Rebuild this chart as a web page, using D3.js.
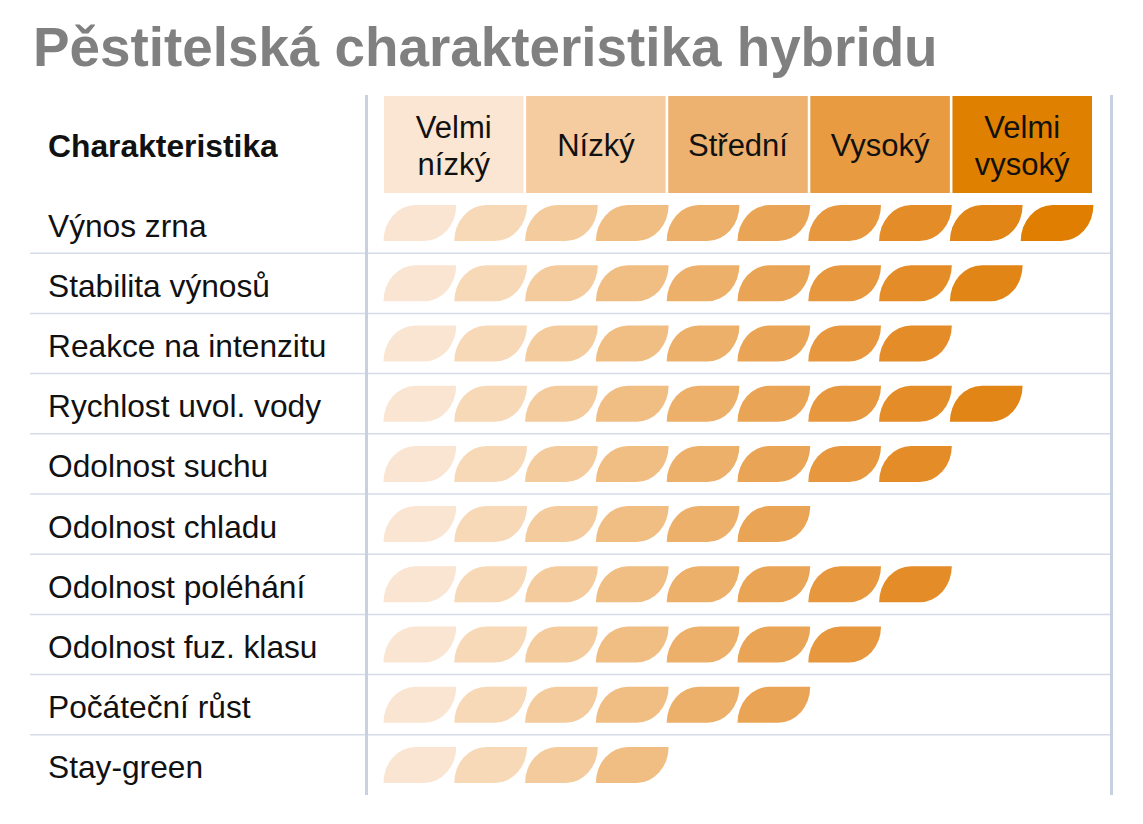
<!DOCTYPE html>
<html>
<head>
<meta charset="utf-8">
<script src="https://cdn.jsdelivr.net/npm/d3@7"></script>
<style>
  body { margin: 0; background: #fff; }
  text { font-family: "Liberation Sans", Arial, Helvetica, sans-serif; }
</style>
</head>
<body>
<script>
var title = "Pěstitelská charakteristika hybridu";
var headerLabel = "Charakteristika";

// rating levels (header), each spans two leaves
var levels = [["Velmi", "nízký"], ["Nízký"], ["Střední"], ["Vysoký"], ["Velmi", "vysoký"]];
var levelColors = ["#fae6d3", "#f5cc9f", "#eeb270", "#e89b40", "#e08000"];

// traits and their score (number of leaves, 1-10)
var traits = ["Výnos zrna", "Stabilita výnosů", "Reakce na intenzitu", "Rychlost uvol. vody",
  "Odolnost suchu", "Odolnost chladu", "Odolnost poléhání", "Odolnost fuz. klasu",
  "Počáteční růst", "Stay-green"];
var scores = [10, 9, 8, 9, 8, 6, 8, 7, 6, 4];

var leafColors = ["#f9e5d1", "#f7d8b7", "#f4cb9d", "#f0bd83", "#edb06a",
  "#eaa455", "#e7983e", "#e38c28", "#e18516", "#df7e00"];

var width = 1143,
    height = 824;

var svg = d3.select("body").append("svg")
    .attr("width", width)
    .attr("height", height);

var x = d3.scaleLinear().domain([0, 10]).range([383.5, 1091.5]);
var xLevel = d3.scaleBand().domain(d3.range(levels.length)).range([384, 1092]).paddingInner(0.018);
var y = d3.scaleBand().domain(traits).range([193, 795]);

var leafW = (x(1) - x(0)) * 1.027,
    leafH = 36,
    rx = 32;

function leafPath(lx, ly) {
  return "M" + lx + "," + (ly + leafH) +
    "A" + rx + "," + leafH + " 0 0 1 " + (lx + rx) + "," + ly +
    "L" + (lx + leafW) + "," + ly +
    "A" + rx + "," + leafH + " 0 0 1 " + (lx + leafW - rx) + "," + (ly + leafH) + "Z";
}

// title
svg.append("text")
    .attr("x", 33)
    .attr("y", 66)
    .attr("font-size", 54.8)
    .attr("font-weight", "bold")
    .attr("fill", "#808080")
    .text(title);

// header
svg.append("text")
    .attr("x", 48)
    .attr("y", 157)
    .attr("font-size", 31.8)
    .attr("font-weight", "bold")
    .attr("fill", "#111")
    .text(headerLabel);

var head = svg.selectAll("g.level")
    .data(levels)
    .enter().append("g")
    .attr("class", "level");

head.append("rect")
    .attr("x", (d, i) => xLevel(i))
    .attr("y", 96)
    .attr("width", xLevel.bandwidth())
    .attr("height", 97)
    .attr("fill", (d, i) => levelColors[i]);

head.append("text")
    .attr("text-anchor", "middle")
    .attr("font-size", 31)
    .attr("fill", "#111")
    .selectAll("tspan")
    .data((d, i) => d.map(function(t, j) { return {t: t, i: i, j: j, n: d.length}; }))
    .enter().append("tspan")
    .attr("x", d => xLevel(d.i) + xLevel.bandwidth() / 2)
    .attr("y", d => 156 + (d.j - (d.n - 1) / 2) * 37)
    .text(d => d.t);

// row separators
svg.selectAll("line.row")
    .data(traits.slice(1))
    .enter().append("line")
    .attr("class", "row")
    .attr("x1", 30)
    .attr("x2", 1111)
    .attr("y1", d => y(d))
    .attr("y2", d => y(d))
    .attr("stroke", "#d5dce6")
    .attr("stroke-width", 1.5);

// vertical rules
svg.selectAll("line.vrule")
    .data([366.5, 1111.5])
    .enter().append("line")
    .attr("class", "vrule")
    .attr("x1", d => d)
    .attr("x2", d => d)
    .attr("y1", 95)
    .attr("y2", 795)
    .attr("stroke", "#c8d1df")
    .attr("stroke-width", 3);

// rows
var rows = svg.selectAll("g.trait")
    .data(traits)
    .enter().append("g")
    .attr("class", "trait");

rows.append("text")
    .attr("x", 48)
    .attr("y", d => y(d) + y.bandwidth() / 2 + 13.5)
    .attr("font-size", 31.7)
    .attr("fill", "#111")
    .text(d => d);

rows.selectAll("path")
    .data((d, i) => d3.range(scores[i]).map(k => ({k: k, trait: d})))
    .enter().append("path")
    .attr("d", d => leafPath(x(d.k), y(d.trait) + y.bandwidth() / 2 - leafH / 2))
    .attr("fill", d => leafColors[d.k]);
</script>
</body>
</html>
